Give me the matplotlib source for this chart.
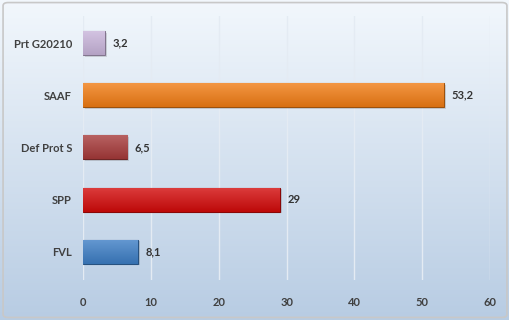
import numpy as np
import matplotlib
matplotlib.use("Agg")
import matplotlib.pyplot as plt
from matplotlib.patches import FancyBboxPatch

# dados do gráfico (de baixo para cima)
categories = ["FVL", "SPP", "Def Prot S", "SAAF", "Prt G20210"]
values = [8.1, 29, 6.5, 53.2, 3.2]
value_labels = ["8,1", "29", "6,5", "53,2", "3,2"]
bar_colors = ["#3c7dc4", "#d20a0a", "#a63a3a", "#f07c14", "#c8b4da"]
x_ticks = [0, 10, 20, 30, 40, 50, 60]

plt.rcParams['font.family'] = ['Lato', 'DejaVu Sans']

fig = plt.figure(figsize=(5.1, 3.2), dpi=100)

# fundo com degradê
bg = fig.add_axes([0, 0, 1, 1])
bg.set_axis_off()
grad = np.linspace(0, 1, 256).reshape(-1, 1)
top = np.array([0.95, 0.97, 0.99])
bottom = np.array([0.72, 0.80, 0.89])
img = top + (bottom - top) * grad[..., None]
bg.imshow(img, aspect='auto', extent=[0, 1, 0, 1], origin='upper')
bg.add_patch(FancyBboxPatch((0.006, 0.008), 0.988, 0.984, boxstyle="round,pad=0,rounding_size=0.01",
                            transform=bg.transAxes, fill=False, edgecolor="#c8c8c8", linewidth=1.2))
bg.set_xlim(0, 1)
bg.set_ylim(0, 1)

ax = fig.add_axes([0.163, 0.125, 0.798, 0.825])
ax.patch.set_alpha(0)
y = np.arange(len(categories))
bars = ax.barh(y, values, height=0.46, color=bar_colors, zorder=3)

# sombra e brilho nas barras
for bar, c in zip(bars, bar_colors):
    rgb = np.array(matplotlib.colors.to_rgb(c))
    dark = rgb * 0.65
    bar.set_edgecolor(dark)
    bar.set_linewidth(0.8)
    x0, y0 = bar.get_x(), bar.get_y()
    w, h = bar.get_width(), bar.get_height()
    shade = np.linspace(0, 1, 64).reshape(-1, 1)
    light = rgb + (1 - rgb) * 0.2
    cols = light + (rgb * 0.9 - light) * shade[..., None]
    im = ax.imshow(cols, aspect='auto', extent=[x0, x0 + w, y0, y0 + h], origin='upper', zorder=3.5)
    im.set_clip_path(bar)
    ax.barh(bar.get_y() + h / 2 - 0.03, w, height=h, left=x0 + 0.3, color="#000000", alpha=0.12, zorder=2)

for yi, v, lab in zip(y, values, value_labels):
    ax.text(v + 1.1, yi, lab, va='center', ha='left', fontsize=8, color="#333333", fontweight='bold')

ax.set_xlim(0, 60)
ax.set_ylim(-0.54, 4.52)
ax.set_xticks(x_ticks)
ax.set_yticks(y)
ax.set_yticklabels(categories)
ax.tick_params(axis='both', length=0, labelsize=8, colors="#404040")
ax.tick_params(axis='x', pad=12)
ax.tick_params(axis='y', pad=8)
for lbl in ax.get_yticklabels() + ax.get_xticklabels():
    lbl.set_fontweight('bold')
ax.grid(axis='x', color="#e4ebf3", linewidth=1.0, zorder=0)
for s in ax.spines.values():
    s.set_visible(False)

fig.savefig("out.png", dpi=100)
